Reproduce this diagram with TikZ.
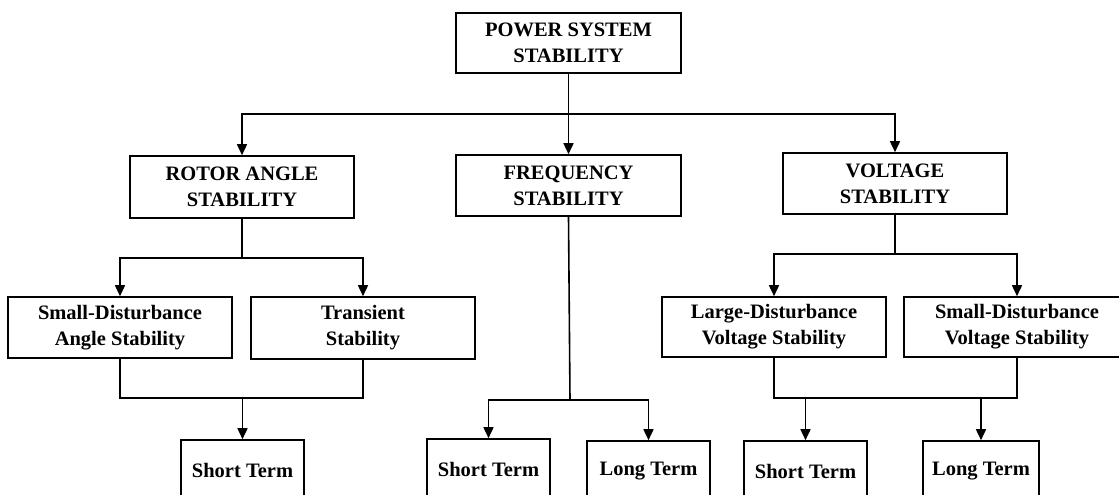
\documentclass[tikz,border=0pt]{standalone}
\usepackage{fontspec}
\setmainfont{Liberation Serif}
\usetikzlibrary{arrows.meta}
\begin{document}
\begin{tikzpicture}[x=1pt,y=-1pt,
  box/.style={draw, line width=1.6pt, rectangle, inner sep=0pt, align=center,
    font=\bfseries\fontsize{20.5}{26}\selectfont},
  ln/.style={line width=1.6pt},
  arr/.style={line width=1.6pt, -{Triangle[length=11pt,width=10pt]}}]
\useasboundingbox (0,0) rectangle (1119,495);
\clip (0,0) rectangle (1119,495);
% top level
\node[box, minimum width=225pt, minimum height=60pt] (top) at (568.5,43) {POWER SYSTEM\\STABILITY};
% second level
\node[box, minimum width=224pt, minimum height=62pt] (rotor) at (242,187) {ROTOR ANGLE\\STABILITY};
\node[box, minimum width=225pt, minimum height=61pt] (freq) at (568.5,185.5) {FREQUENCY\\STABILITY};
\node[box, minimum width=224pt, minimum height=61pt] (volt) at (895,183.5) {VOLTAGE\\STABILITY};
% third level
\node[box, minimum width=224pt, minimum height=61pt] (sda) at (120,327.5) {Small-Disturbance\\Angle Stability};
\node[box, minimum width=224pt, minimum height=62pt] (tr) at (363,328) {Transient\\Stability};
\node[box, minimum width=224pt, minimum height=60pt] (ldv) at (774,327) {Large-Disturbance\\Voltage Stability};
\node[box, minimum width=226pt, minimum height=60pt] (sdv) at (1017,327) {Small-Disturbance\\Voltage Stability};
% bottom level
\node[box, minimum width=123pt, minimum height=60pt] (st1) at (242.5,470) {Short Term};
\node[box, minimum width=123pt, minimum height=60pt] (st2) at (488.5,469) {Short Term};
\node[box, minimum width=123pt, minimum height=60pt] (lt2) at (648.5,471) {Long Term};
\node[box, minimum width=123pt, minimum height=60pt] (st3) at (805.5,471) {Short Term};
\node[box, minimum width=116pt, minimum height=60pt] (lt3) at (981,471) {Long Term};
% junctions
\coordinate (j1) at (568.5,114);
\coordinate (j2) at (242,258);
\coordinate (j3) at (242.5,398);
\coordinate (j4) at (570,400);
\coordinate (j5) at (895,254);
\coordinate (j6) at (895,398);
% connectors
\draw[ln] (top.south) -- (j1);
\draw[arr] (j1) -| (rotor.north);
\draw[arr] (j1) -- (freq.north);
\draw[arr] (j1) -| (volt.north);
\draw[ln] (rotor.south) -- (j2);
\draw[arr] (j2) -| (sda.north);
\draw[arr] (j2) -| (tr.north);
\draw[ln] (sda.south) |- (j3) -| (tr.south);
\draw[arr] (j3) -- (st1.north);
\draw[ln] (freq.south) -- (j4);
\draw[arr] (j4) -| (st2.north);
\draw[arr] (j4) -| (lt2.north);
\draw[ln] (volt.south) -- (j5);
\draw[arr] (j5) -| (ldv.north);
\draw[arr] (j5) -| (sdv.north);
\draw[ln] (ldv.south) |- (j6) -| (sdv.south);
\draw[arr] (st3.north |- j6) -- (st3.north);
\draw[arr] (lt3.north |- j6) -- (lt3.north);
\end{tikzpicture}
\end{document}
